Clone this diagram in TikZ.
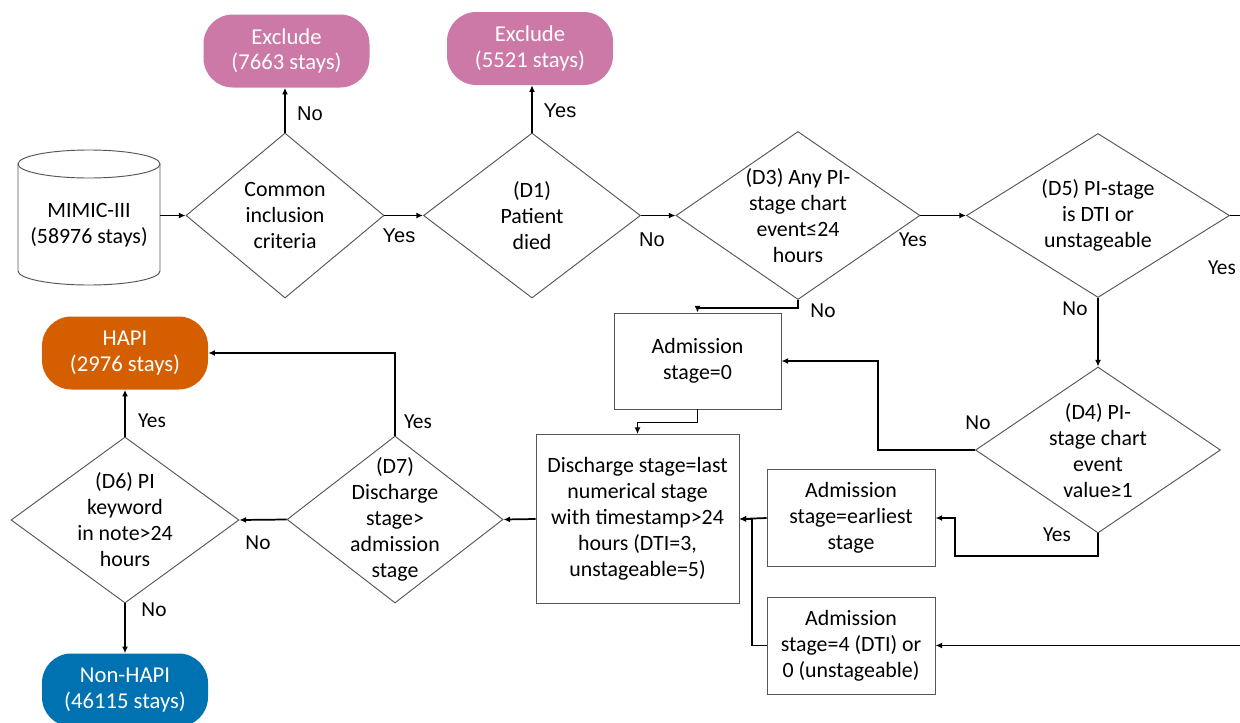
\documentclass[tikz,border=0pt]{standalone}
\usepackage{fontspec}
\setmainfont{Carlito}
\newfontfamily\arialf{Liberation Sans}
\usetikzlibrary{shapes.geometric,arrows.meta}
\newdimen\px \px=0.75pt
\definecolor{expink}{HTML}{CC79A7}
\definecolor{hapiorange}{HTML}{D55E00}
\definecolor{nonblue}{HTML}{0072B2}
\definecolor{edgegray}{HTML}{555555}
\begin{document}
\begin{tikzpicture}[x=0.75pt,y=-0.75pt,
  every node/.style={font=\fontsize{16.4}{19.5}\selectfont, align=center},
  dia/.style={diamond, draw=edgegray, line width=0.7pt, inner sep=0pt},
  box/.style={rectangle, draw=edgegray, line width=0.7pt, inner sep=0pt},
  pill/.style={rectangle, rounded corners=22pt, text=white, minimum width=166\px, minimum height=73\px, inner sep=0pt, font=\fontsize{17}{19}\selectfont},
  conn/.style={line width=1.3pt, -{Latex[length=5pt,width=4.5pt]}},
  plain/.style={line width=1.3pt},
  lbl/.style={font=\fontsize{16}{19}\selectfont},
  lbla/.style={font=\arialf\fontsize{15}{18}\selectfont},
]
\useasboundingbox (0,0) rectangle (1240,722);
\clip (0,0) rectangle (1240,722);

% terminal pills
\node[pill, fill=expink] (ex1) at (286.5,51) {Exclude\\(7663 stays)};
\node[pill, fill=expink] (ex2) at (530,48.5) {Exclude\\(5521 stays)};
\node[pill, fill=hapiorange] (hapi) at (125,353) {HAPI\\(2976 stays)};
\node[pill, fill=nonblue] (nonhapi) at (125,690) {Non-HAPI\\(46115 stays)};

% database cylinder
\draw[draw=edgegray, line width=0.7pt, fill=white] (18,164) -- (18,271) arc[start angle=180, end angle=0, x radius=71, y radius=14] -- (160,164);
\draw[draw=edgegray, line width=0.7pt, fill=white] (89,164) ellipse[x radius=71, y radius=14];
\node[minimum width=142\px, inner sep=0pt] (mimic) at (89,225) {MIMIC-III\\(58976 stays)};

% decision diamonds
\node[dia, minimum width=198\px, minimum height=165\px] (dc) at (285,215.5) {};
\node (dct) at (dc) {Common\\inclusion\\criteria};
\node[dia, minimum width=217\px, minimum height=165\px] (d1) at (532,215.5) {};
\node (d1t) at (d1) {(D1)\\Patient\\died};
\node[dia, minimum width=244\px, minimum height=168\px] (d3) at (798,215.5) {};
\node (d3t) at (798,216) {(D3) Any PI-\\stage chart\\event≤24\\hours};
\node[dia, minimum width=263\px, minimum height=164\px] (d5) at (1098,215.5) {};
\node (d5t) at (d5) {(D5) PI-stage\\is DTI or\\unstageable};
\node[dia, minimum width=245\px, minimum height=166\px] (d4) at (1098,450) {};
\node (d4t) at (1098,451) {(D4) PI-\\stage chart\\event\\value≥1};
\node[dia, minimum width=216\px, minimum height=167\px] (d7) at (395,519.5) {};
\node (d7t) at (d7) {(D7)\\Discharge\\stage>\\admission\\stage};
\node[dia, minimum width=228\px, minimum height=166\px] (d6) at (125,520) {};
\node (d6t) at (d6) {(D6) PI\\keyword\\in note>24\\hours};

% process boxes
\node[box, minimum width=167\px, minimum height=96\px] (adm0) at (697.5,361) {Admission\\stage=0};
\node[box, minimum width=203\px, minimum height=169\px] (disc) at (637.5,519) {Discharge stage=last\\numerical stage\\with timestamp>24\\hours (DTI=3,\\unstageable=5)};
\node[box, minimum width=168\px, minimum height=97\px] (admE) at (851,518) {Admission\\stage=earliest\\stage};
\node[box, minimum width=168\px, minimum height=97\px] (adm4) at (851,645.5) {Admission\\stage=4 (DTI) or\\0 (unstageable)};

% connectors
\coordinate (rOut) at (1260,215.5);
\coordinate (rIn) at (1260,645.5);
\draw[conn] (mimic.east |- dc.west) -- (dc.west);
\draw[conn] (dc.north) -- (dc.north |- ex1.south);
\draw[conn] (dc.east) -- (d1.west);
\draw[conn] (d1.north) -- (d1.north |- ex2.south);
\draw[conn] (d1.east) -- (d3.west);
\draw[conn] (d3.east) -- (d5.west);
\draw[plain] (d5.east) -- (rOut);
\draw[conn] (rIn) -- (adm4.east);
\draw[conn] (d3.south) -- ++(0,8) -| (adm0.north);
\draw[conn] (d5.south) -- (d4.north);
\draw[conn] (d4.west) -- (878,450) |- (adm0.east);
\draw[conn] (d4.south) |- (955,556) |- (admE.east);
\draw[conn] (adm0.south) -- ++(0,13) -| (disc.north);
\draw[conn] (admE.west) -- (disc.east);
\draw[conn] (adm4.west) -- (752,645.5) |- (disc.east);
\draw[conn] (disc.west) -- (d7.east);
\draw[conn] (d7.north) |- (hapi.east);
\draw[conn] (d7.west) -- (d6.east);
\draw[conn] (d6.north) -- (hapi.south);
\draw[conn] (d6.south) -- (nonhapi.north);

% connector labels
\node[lbla] (l1) at (310,114) {No};
\node[lbla] (l2) at (560,111) {Yes};
\node[lbla] (l3) at (399,236) {Yes};
\node[lbla] (l4) at (652,240) {No};
\node[lbl] (l5) at (913,240) {Yes};
\node[lbl] (l6) at (823,311) {No};
\node[lbl] (l7) at (1222,268) {Yes};
\node[lbl] (l8) at (1075,309) {No};
\node[lbl] (l9) at (978,423) {No};
\node[lbl] (l10) at (1057,535) {Yes};
\node[lbl] (l11) at (418,422) {Yes};
\node[lbl] (l12) at (152,421) {Yes};
\node[lbl] (l13) at (258,543) {No};
\node[lbl] (l14) at (154,610) {No};
\end{tikzpicture}
\end{document}
